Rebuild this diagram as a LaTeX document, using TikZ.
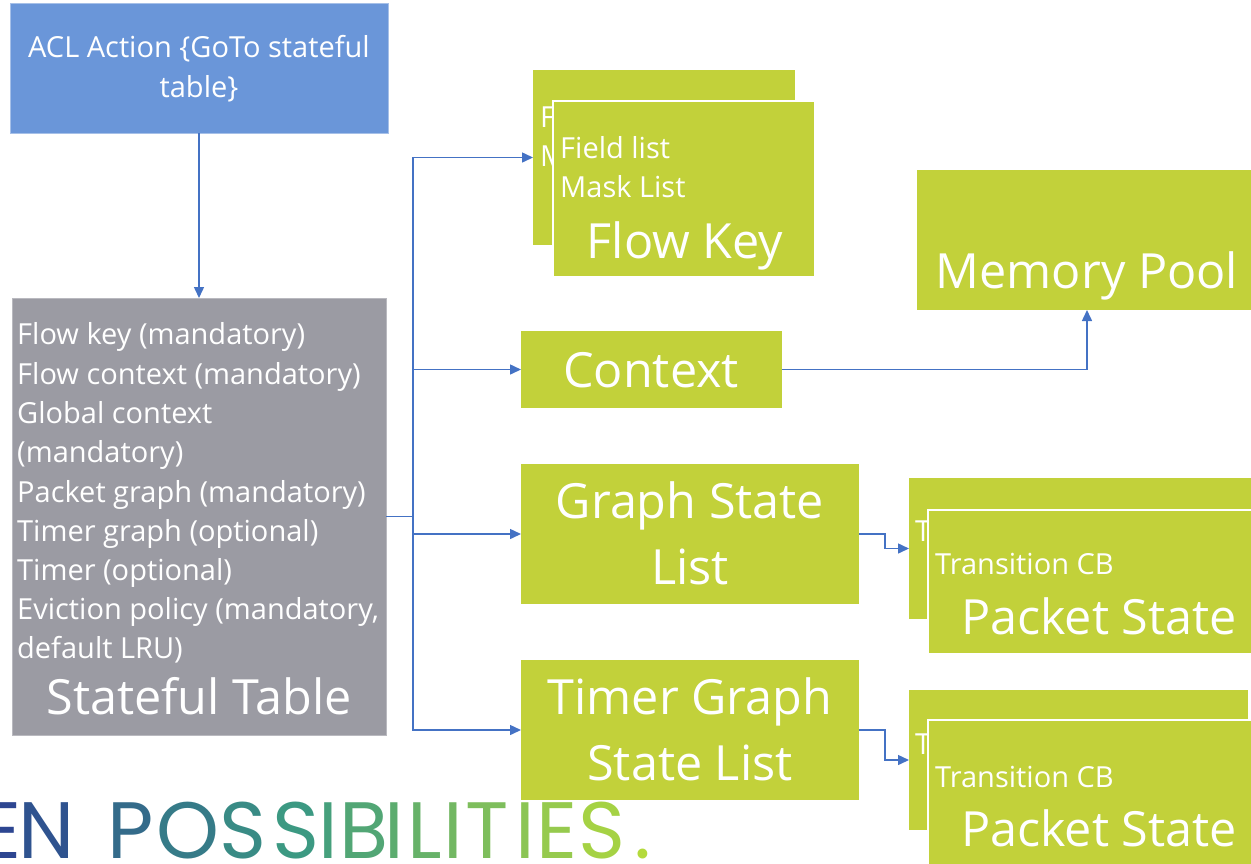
\documentclass[tikz,border=0pt]{standalone}
\usepackage{fontspec}
\setmainfont{Open Sans}
\newfontfamily\logofont{Poppins}
\newfontfamily\titlefont{Carlito}
\usepackage{graphicx}
\usetikzlibrary{arrows.meta}
\definecolor{boxgreen}{RGB}{194,209,58}
\definecolor{aclblue}{RGB}{106,150,217}
\definecolor{tablegray}{RGB}{155,155,163}
\definecolor{arrowblue}{RGB}{68,114,196}
\definecolor{titlegray}{RGB}{64,64,64}
\definecolor{logoblue}{RGB}{45,70,145}
\definecolor{logoteal}{RGB}{60,155,130}
\definecolor{logogreen}{RGB}{180,218,60}
\begin{document}
\begin{tikzpicture}[x=1pt,y=-1pt,
  boxbase/.style={inner sep=0pt,outer sep=0pt,anchor=north west},
  gbox/.style={boxbase,fill=boxgreen},
  frontbox/.style={boxbase,fill=boxgreen,draw=white,line width=2.5pt},
  smalltxt/.style={text=white,inner sep=0pt,anchor=base west,font=\fontsize{29}{34}\selectfont},
  bigtxt/.style={text=white,inner sep=0pt,anchor=base,font=\fontsize{48.5}{56}\selectfont},
  conn/.style={draw=arrowblue,line width=1.5pt,-{Triangle[length=11pt,width=10pt]}},
  plainline/.style={draw=arrowblue,line width=1.5pt},
  logoletter/.style={inner sep=0pt,anchor=base,font=\logofont\fontsize{80}{82}\selectfont}
]
\useasboundingbox (0,0) rectangle (1251,863);
\clip (0,0) rectangle (1251,863);

% title fragment
\node[anchor=base,text=titlegray,inner sep=0pt,font=\titlefont\bfseries\fontsize{80}{90}\selectfont] (titley) at (874,-14) {y};

% ACL box
\node[boxbase,fill=aclblue,draw=aclblue!60!white,line width=1pt,minimum width=378,minimum height=130] (acl) at (10,3) {};
\node[text=white,inner sep=0pt,anchor=base,font=\fontsize{29}{34}\selectfont] (acl1) at (199,57) {ACL Action \{GoTo stateful};
\node[text=white,inner sep=0pt,anchor=base,font=\fontsize{29}{34}\selectfont] (acl2) at (199,97) {table\}};

% Stateful table
\node[boxbase,fill=tablegray,draw=tablegray!70!white,line width=1pt,minimum width=374,minimum height=437] (st) at (12,298) {};
\node[smalltxt] (st1) at (17,344) {Flow key (mandatory)};
\node[smalltxt] (st2) at (17,384) {Flow context (mandatory)};
\node[smalltxt] (st3) at (17,423) {Global context};
\node[smalltxt] (st4) at (17,462) {(mandatory)};
\node[smalltxt] (st5) at (17,502) {Packet graph (mandatory)};
\node[smalltxt] (st6) at (17,541) {Timer graph (optional)};
\node[smalltxt] (st7) at (17,580) {Timer (optional)};
\node[smalltxt] (st8) at (17,619) {Eviction policy (mandatory,};
\node[smalltxt] (st9) at (17,658) {default LRU)};
\node[bigtxt] (stname) at (199,714) {Stateful Table};

% Flow key stack
\node[gbox,minimum width=262,minimum height=175] (fkb) at (533,70) {};
\node[smalltxt] (fkb1) at (540,127) {F};
\node[smalltxt] (fkb2) at (540,166) {M};
\node[frontbox,minimum width=262,minimum height=176] (fk) at (553,101) {};
\node[smalltxt] (fk1) at (560,158) {Field list};
\node[smalltxt] (fk2) at (560,197) {Mask List};
\node[bigtxt] (fkname) at (685,258) {Flow Key};

% Memory pool
\node[gbox,minimum width=334,minimum height=140] (mp) at (917,170) {};
\node[bigtxt] (mpname) at (1087,288) {Memory Pool};

% Context
\node[gbox,minimum width=261,minimum height=77] (ctx) at (521,331) {};
\node[bigtxt] (ctxname) at (651,387) {Context};

% Graph state list
\node[gbox,minimum width=338,minimum height=140] (gsl) at (521,464) {};
\node[bigtxt] (gsl1) at (690,518) {Graph State};
\node[bigtxt] (gsl2) at (690,584) {List};

% Timer graph state list
\node[gbox,minimum width=338,minimum height=140] (tgsl) at (521,660) {};
\node[bigtxt] (tgsl1) at (690,714) {Timer Graph};
\node[bigtxt] (tgsl2) at (690,780) {State List};

% Packet state stack 1
\node[gbox,minimum width=342,minimum height=141] (psa) at (909,478) {};
\node[smalltxt] (psa0) at (915,541) {T};
\node[frontbox,minimum width=342,minimum height=144] (psaf) at (928,510) {};
\node[smalltxt] (psa1) at (935,574) {Transition CB};
\node[bigtxt] (psa2) at (1099,634) {Packet State};

% Packet state stack 2
\node[gbox,minimum width=339,minimum height=140] (psb) at (909,690) {};
\node[smalltxt] (psb0) at (915,754) {T};
\node[frontbox,minimum width=342,minimum height=150] (psbf) at (928,720) {};
\node[smalltxt] (psb1) at (935,787) {Transition CB};
\node[bigtxt] (psb2) at (1099,846) {Packet State};

% connectors
\path (st.east) ++(27,0) coordinate (hub);
\draw[conn] (acl.south) -- (st.north);
\draw[plainline] (st.east) -- (hub);
\draw[conn] (hub) |- (fkb.west);
\draw[conn] (hub) |- (ctx.west);
\draw[conn] (hub) |- (gsl.west);
\draw[conn] (hub) |- (tgsl.west);
\draw[conn] (ctx.east) -| ([xshift=3pt]mp.south);
\draw[conn] (gsl.east) -- ++(26,0) |- (psa.west);
\draw[conn] (tgsl.east) -- ++(26,0) |- (psb.west);

% logo text
\foreach \ch/\x [count=\i] in {E/1,N/47,P/131,O/188,S/243,S/296,I/328,B/364,I/394,L/425,I/453,T/487,I/525,E/557,S/602,./643}{
  \ifnum\x<300
    \pgfmathtruncatemacro\q{\x/3}
    \colorlet{lettercol}{logoteal!\q!logoblue}
  \else
    \pgfmathtruncatemacro\q{min(100,(\x-300)/3.4)}
    \colorlet{lettercol}{logogreen!\q!logoteal}
  \fi
  \node[logoletter,text=lettercol] (logo\i) at (\x,858) {\ch};
}
\end{tikzpicture}
\end{document}
